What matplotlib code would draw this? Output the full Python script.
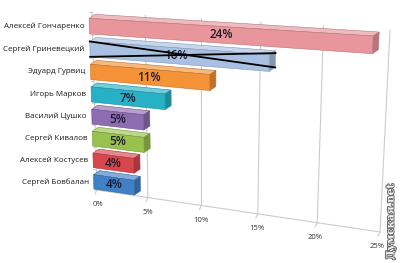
import numpy as np
import matplotlib
matplotlib.use("Agg")
import matplotlib.pyplot as plt
import matplotlib.colors as mcolors
import matplotlib.patheffects as pe

plt.rcParams['font.family'] = ['Open Sans', 'DejaVu Sans']

# data
names = ["Алексей Гончаренко", "Сергей Гриневецкий", "Эдуард Гурвиц", "Игорь Марков",
         "Василий Цушко", "Сергей Кивалов", "Алексей Костусев", "Сергей Бовбалан"]
values = [24, 16, 11, 7, 5, 5, 4, 4]
colors = ['#e8969b', '#a9c0e2', '#f39237', '#27b1c6', '#8e6cb2', '#99c14d', '#d6464c', '#3f80c6']
ticks = [0, 5, 10, 15, 20, 25]
tick_labels = ["0%", "5%", "10%", "15%", "20%", "25%"]
xmax = 25

# perspective of the back wall: (value, height) unit square -> image pixels
src = [(0, 0), (xmax, 0), (0, 1), (xmax, 1)]
dst = [(97, 190), (380, 232), (92, 12), (390, 30)]
A = []
b = []
for (u, w), (X, Y) in zip(src, dst):
    A.append([u, w, 1, 0, 0, 0, -u * X, -w * X])
    A.append([0, 0, 0, u, w, 1, -u * Y, -w * Y])
    b += [X, Y]
hm = np.append(np.linalg.solve(np.array(A, float), np.array(b, float)), 1).reshape(3, 3)


def proj(v, h, off=(0, 0)):
    p = hm @ np.array([v, h, 1.0])
    return p[0] / p[2] + off[0], p[1] / p[2] + off[1]


front = (-3, 2.5)
back = (3, -1.5)

fig = plt.figure(figsize=(4, 2.63), dpi=100)
ax = fig.add_axes([0, 0, 1, 1])
ax.set_xlim(0, 400)
ax.set_ylim(263, 0)
ax.axis('off')

# wall grid + floor
for t, lab in zip(ticks, tick_labels):
    x0, y0 = proj(t, 0)
    x1, y1 = proj(t, 1)
    ax.plot([x0, x1], [y0, y1], color='#cccccc', lw=0.8, zorder=1)
    ax.plot([x0, x0 - 2], [y0, y0 + 4], color='#cccccc', lw=0.8, zorder=1)
    ax.text(x0 + 1 - 0.14 * t, y0 + 15, lab, fontsize=5.5, color='#333333',
            ha='center', va='center')
fx0, fy0 = proj(0, 0)
fx1, fy1 = proj(xmax, 0)
ax.plot([fx0, fx1], [fy0, fy1], color='#cccccc', lw=0.8, zorder=1)

n = len(values)
half = 0.042
for i in range(n + 1):
    x, y = proj(0, 1 - i / n)
    ax.plot([x - 3, x], [y, y], color='#cccccc', lw=0.6, zorder=1)

for i, (nm, v, c) in enumerate(zip(names, values, colors)):
    hc = 1 - (i + 0.5) / n
    h0, h1 = hc - half, hc + half
    base = np.array(mcolors.to_rgb(c))
    top_c = base + (1 - base) * 0.35
    side_c = base * 0.78
    f = [proj(0, h0, front), proj(v, h0, front), proj(v, h1, front), proj(0, h1, front)]
    tp = [proj(0, h1, front), proj(v, h1, front), proj(v, h1, back), proj(0, h1, back)]
    sd = [proj(v, h0, front), proj(v, h0, back), proj(v, h1, back), proj(v, h1, front)]
    for poly, col in [(tp, top_c), (sd, side_c), (f, base)]:
        xs, ys = zip(*poly)
        ax.fill(xs, ys, color=col, lw=0.4, ec=side_c, zorder=3)
    lx, ly = proj(v / 2, hc, front)
    ax.text(lx, ly, f"{v}%", fontsize=8.5, fontweight='semibold', color='#1c1c2c',
            ha='center', va='center', zorder=4)
    nx, ny = proj(0, hc, front)
    ax.text(nx - 5, ny, nm, fontsize=5.8, color='#1e1e1e', ha='right', va='center')

# hand-drawn strike lines over the second bar
hc = 1 - 1.5 / n
ax_, ay_ = proj(0, hc + half, front)
bx_, by_ = proj(values[1], hc - half, back)
ax.plot([ax_, bx_], [ay_, by_], color='black', lw=1.3, zorder=5)
cx_, cy_ = proj(0, hc - half, front)
dx_, dy_ = proj(values[1], hc + 0.03, back)
ax.plot([cx_, dx_], [cy_, dy_], color='black', lw=1.3, zorder=5)

# watermark
ax.text(391, 222, "Думская.net", rotation=90, fontsize=7.5, fontweight='bold',
        family=['DejaVu Serif'], color='#f4f4f4', ha='center', va='center',
        path_effects=[pe.withStroke(linewidth=1.4, foreground='#6a6a6a')], zorder=6)

fig.savefig("out.png", dpi=100)
